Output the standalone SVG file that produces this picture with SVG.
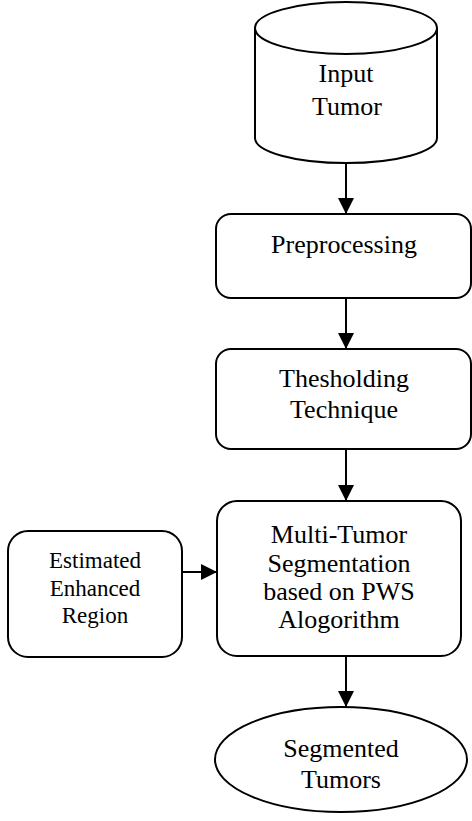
<svg xmlns="http://www.w3.org/2000/svg" width="472" height="821" viewBox="0 0 472 821">
<defs>
<marker id="ah" markerWidth="16" markerHeight="16" refX="16" refY="8" orient="auto" markerUnits="userSpaceOnUse">
<path d="M0,0 L16,8 L0,16 Z" fill="#000"/>
</marker>
<style>
.s{fill:#fff;stroke:#000;stroke-width:2}
.t{font-family:"Liberation Serif","Times New Roman",serif;font-size:26px;fill:#000;text-anchor:middle}
.ts{font-size:23px}
.c{stroke:#000;stroke-width:2;fill:none;marker-end:url(#ah)}
</style>
</defs>
<rect width="472" height="821" fill="#fff"/>
<g id="connectors">
<line class="c" x1="346" y1="163" x2="346" y2="214"/>
<line class="c" x1="346" y1="298" x2="346" y2="349"/>
<line class="c" x1="346" y1="449" x2="346" y2="501"/>
<line class="c" x1="182" y1="572" x2="217" y2="572"/>
<line class="c" x1="346" y1="656" x2="346" y2="707"/>
</g>
<g id="input">
<path class="s" d="M255,28 L255,138 A91,25 0 0 0 437,138 L437,28"/>
<ellipse class="s" cx="346" cy="28" rx="91" ry="26"/>
<text class="t" x="346" y="82">Input</text>
<text class="t" x="347" y="115">Tumor</text>
</g>
<g id="preprocessing">
<rect class="s" x="216" y="214" width="255" height="84" rx="15"/>
<text class="t" x="344" y="253">Preprocessing</text>
</g>
<g id="thresholding">
<rect class="s" x="216" y="349" width="255" height="100" rx="15"/>
<text class="t" x="344" y="387">Thesholding</text>
<text class="t" x="344" y="418">Technique</text>
</g>
<g id="estimated">
<rect class="s" x="8" y="531" width="174" height="126" rx="20"/>
<text class="t ts" x="95" y="568">Estimated</text>
<text class="t ts" x="95" y="596">Enhanced</text>
<text class="t ts" x="95" y="623">Region</text>
</g>
<g id="multi">
<rect class="s" x="217" y="501" width="244" height="155" rx="20"/>
<text class="t" x="339" y="543">Multi-Tumor</text>
<text class="t" x="339" y="572">Segmentation</text>
<text class="t" x="339" y="600">based on PWS</text>
<text class="t" x="339" y="628">Alogorithm</text>
</g>
<g id="segmented">
<ellipse class="s" cx="341" cy="759.5" rx="126" ry="52.5"/>
<text class="t" x="341" y="757">Segmented</text>
<text class="t" x="341" y="788">Tumors</text>
</g>
</svg>
